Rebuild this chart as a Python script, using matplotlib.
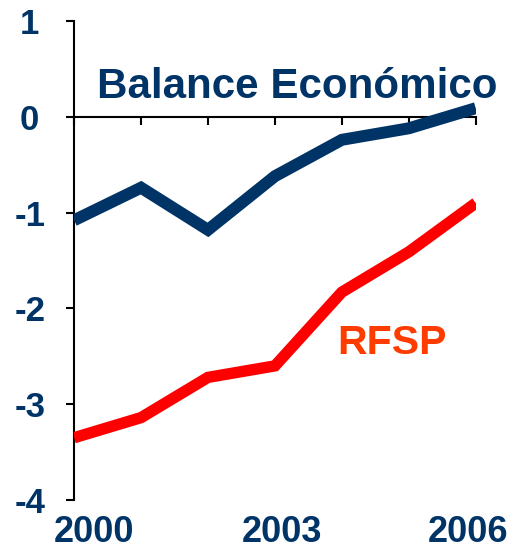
import matplotlib
matplotlib.use('Agg')
import matplotlib.pyplot as plt

# ── Datos ────────────────────────────────────────────────────────────────────
years = [2000, 2001, 2002, 2003, 2004, 2005, 2006]
balance_economico = [-1.08, -0.74, -1.18, -0.62, -0.24, -0.12, 0.09]
rfsp = [-3.35, -3.14, -2.72, -2.60, -1.83, -1.41, -0.90]
yticks = [1, 0, -1, -2, -3, -4]
xlabels = ['2000', '2003', '2006']
xlabel_pos = [2000.3, 2003.1, 2005.88]

BLUE = '#003366'
RED = '#ff0000'
ORANGE = '#ff3c00'

plt.rcParams['font.family'] = ['Liberation Sans', 'DejaVu Sans']

fig = plt.figure(figsize=(5.11, 5.5), dpi=100)
ax = fig.add_axes([0.145, 0.0909, 0.786, 0.8709])

ax.plot(years, balance_economico, color=BLUE, lw=8.6,
        solid_joinstyle='miter', solid_capstyle='butt', zorder=3)
ax.plot(years, rfsp, color=RED, lw=8.2,
        solid_joinstyle='miter', solid_capstyle='butt', zorder=3)

ax.set_xlim(2000, 2006)
ax.set_ylim(-4, 1)

# ejes: el eje x cruza en cero
for s in ('top', 'right'):
    ax.spines[s].set_visible(False)
ax.spines['bottom'].set_position(('data', 0))
ax.spines['left'].set_linewidth(1.5)
ax.spines['bottom'].set_linewidth(1.5)

ax.set_xticks(years)
ax.set_xticklabels([])
ax.tick_params(axis='x', direction='out', length=6, width=1.5)

ax.set_yticks(yticks)
ax.set_yticklabels([str(v) for v in yticks])
ax.tick_params(axis='y', direction='out', length=6, width=1.5, pad=26,
               labelsize=25, labelcolor=BLUE)
for lbl in ax.get_yticklabels():
    lbl.set_fontweight('bold')
    lbl.set_horizontalalignment('center')

# etiquetas de años abajo
for x, t in zip(xlabel_pos, xlabels):
    ax.text(x, -4.44, t, ha='center', va='baseline', fontsize=26,
            fontweight='bold', color=BLUE, clip_on=False)

ax.text(2000.34, 0.2, 'Balance Económico', ha='left', va='baseline',
        fontsize=30.3, fontweight='bold', color=BLUE)
ax.text(2003.93, -2.48, 'RFSP', ha='left', va='baseline',
        fontsize=29.5, fontweight='bold', color=ORANGE)

fig.savefig('out.png', dpi=100)
